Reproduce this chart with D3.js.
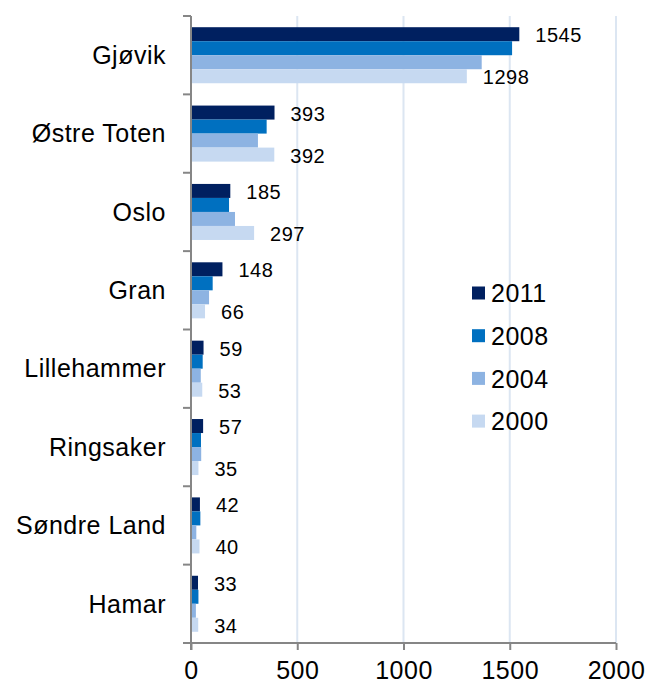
<!DOCTYPE html>
<html>
<head>
<meta charset="utf-8">
<script src="https://cdn.jsdelivr.net/npm/d3@7"></script>
<style>
  body { margin: 0; background: #fff; }
  svg text { font-family: "Liberation Sans", Arial, sans-serif; fill: #000; letter-spacing: 0.5px; }
</style>
</head>
<body>
<div id="chart"></div>
<script>
var categories = ['Gjøvik', 'Østre Toten', 'Oslo', 'Gran', 'Lillehammer', 'Ringsaker', 'Søndre Land', 'Hamar'];
var years = ['2011', '2008', '2004', '2000'];
var v2011 = [1545, 393, 185, 148, 59, 57, 42, 33];
var v2008 = [1511, 356, 179, 102, 55, 47, 44, 35];
var v2004 = [1368, 315, 207, 85, 46, 48, 25, 23];
var v2000 = [1298, 392, 297, 66, 53, 35, 40, 34];
var xTicks = [0, 500, 1000, 1500, 2000];

var series = [v2011, v2008, v2004, v2000];
var colors = ['#002060', '#0070c0', '#8db3e2', '#c6d9f1'];

var width = 649, height = 684;
var plotLeft = 191, plotRight = 616, plotTop = 16, plotBottom = 643;

var svg = d3.select('#chart').append('svg')
    .attr('width', width)
    .attr('height', height);

var x = d3.scaleLinear().domain([0, 2000]).range([plotLeft, plotRight]);
var y = d3.scaleBand().domain(categories).range([plotTop, plotBottom])
    .paddingInner(0.285).paddingOuter(0.143);
var yInner = d3.scaleBand().domain(years).range([0, y.bandwidth()]);
var color = d3.scaleOrdinal().domain(years).range(colors);

// gridlines
svg.append('g')
    .selectAll('line')
    .data(xTicks.slice(1))
    .enter()
    .append('line')
    .attr('x1', function(d) { return x(d); })
    .attr('x2', function(d) { return x(d); })
    .attr('y1', plotTop)
    .attr('y2', plotBottom)
    .attr('stroke', '#dce6f2')
    .attr('stroke-width', 2);

// bars
var groups = svg.append('g')
    .selectAll('g')
    .data(categories)
    .enter()
    .append('g')
    .attr('transform', function(d) { return 'translate(0,' + y(d) + ')'; });

groups.selectAll('rect')
    .data(function(d, i) {
        return years.map(function(yr, j) { return { year: yr, value: series[j][i] }; });
    })
    .enter()
    .append('rect')
    .attr('x', x(0))
    .attr('y', function(d) { return yInner(d.year); })
    .attr('width', function(d) { return x(d.value) - x(0); })
    .attr('height', yInner.bandwidth())
    .attr('fill', function(d) { return color(d.year); });

// data labels for 2011 and 2000
groups.selectAll('text.lbl')
    .data(function(d, i) {
        return [{ year: '2011', value: v2011[i] }, { year: '2000', value: v2000[i] }];
    })
    .enter()
    .append('text')
    .attr('class', 'lbl')
    .attr('x', function(d) { return x(d.value) + 16; })
    .attr('y', function(d) { return yInner(d.year) + yInner.bandwidth() / 2 + 1; })
    .attr('dy', '0.35em')
    .attr('font-size', '20px')
    .text(function(d) { return d.value; });

// x axis
var xAxis = svg.append('g')
    .attr('transform', 'translate(0,' + plotBottom + ')')
    .call(d3.axisBottom(x).tickValues(xTicks).tickFormat(d3.format('d')).tickSize(7).tickPadding(11));
xAxis.select('.domain').attr('stroke', '#868686').attr('stroke-width', 2)
    .attr('d', 'M' + (plotLeft - 8) + ',0H' + plotRight);
xAxis.selectAll('.tick line').attr('stroke', '#868686').attr('stroke-width', 2);
xAxis.selectAll('.tick text').attr('font-size', '25px')
    .attr('font-family', '"Liberation Sans", Arial, sans-serif').attr('fill', '#000');

// y axis
var yAxis = svg.append('g')
    .attr('transform', 'translate(' + plotLeft + ',0)');
yAxis.append('line')
    .attr('x1', 0).attr('x2', 0)
    .attr('y1', plotTop).attr('y2', plotBottom + 7)
    .attr('stroke', '#868686').attr('stroke-width', 2);
var step = (plotBottom - plotTop) / categories.length;
yAxis.selectAll('line.tk')
    .data(d3.range(categories.length + 1))
    .enter()
    .append('line')
    .attr('class', 'tk')
    .attr('x1', -8).attr('x2', 0)
    .attr('y1', function(d) { return plotTop + d * step; })
    .attr('y2', function(d) { return plotTop + d * step; })
    .attr('stroke', '#868686').attr('stroke-width', 2);
yAxis.selectAll('text')
    .data(categories)
    .enter()
    .append('text')
    .attr('x', -25)
    .attr('y', function(d) { return y(d) + y.bandwidth() / 2; })
    .attr('dy', '0.35em')
    .attr('text-anchor', 'end')
    .attr('font-size', '25px')
    .text(function(d) { return d; });

// legend
var legend = svg.append('g')
    .selectAll('g')
    .data(years)
    .enter()
    .append('g')
    .attr('transform', function(d, i) { return 'translate(472,' + (293.5 + i * 42.7) + ')'; });
legend.append('rect')
    .attr('x', 0).attr('y', -7)
    .attr('width', 13).attr('height', 13)
    .attr('fill', function(d) { return color(d); });
legend.append('text')
    .attr('x', 19).attr('y', 0)
    .attr('dy', '0.35em')
    .attr('font-size', '25px')
    .text(function(d) { return d; });
</script>
</body>
</html>
